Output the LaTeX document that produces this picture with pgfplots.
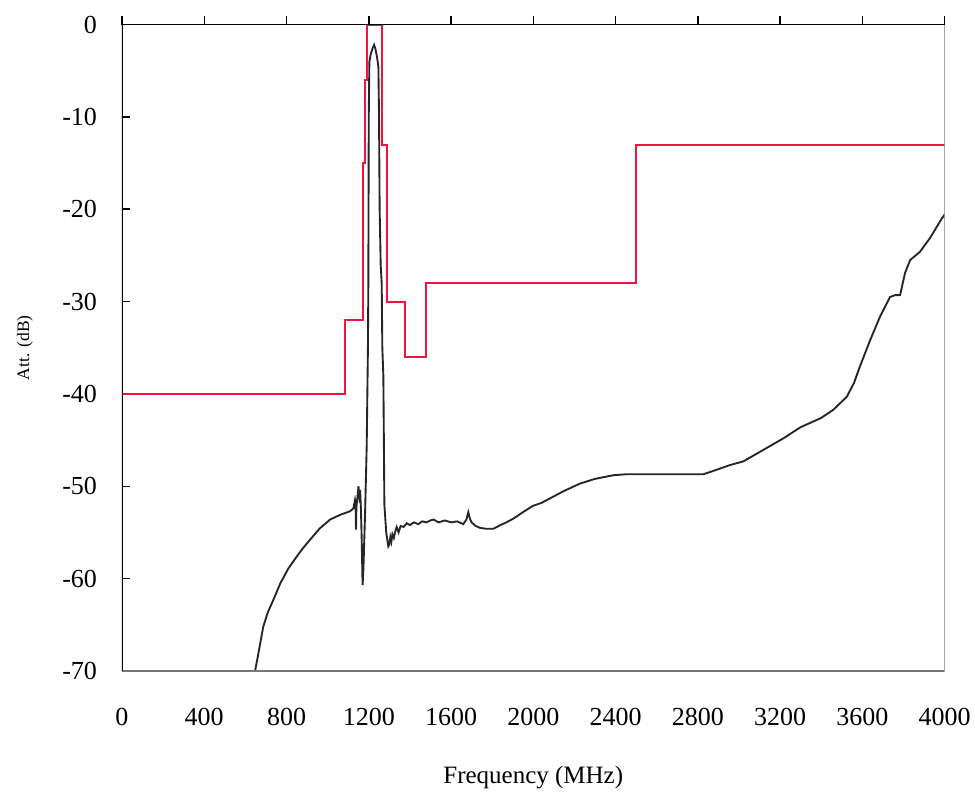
\documentclass[border=0pt]{standalone}
\usepackage{fontspec}
\setmainfont{Liberation Serif}
\usepackage{pgfplots}
\pgfplotsset{compat=1.18}
\definecolor{maskred}{RGB}{238,20,60}
\definecolor{boxgray}{RGB}{120,120,120}
\begin{document}
\begin{tikzpicture}
\useasboundingbox (-48.8pt,-50pt) rectangle (341.2pt,268.4pt);
\begin{axis}[
  scale only axis,
  width=329pt, height=258.6pt,
  xmin=0, xmax=4000, ymin=-70, ymax=0,
  axis line style={draw=none},
  xtick={0,400,...,4000},
  xticklabels={0,400,800,1200,1600,2000,2400,2800,3200,3600,4000},
  ytick={-70,-60,...,0},
  yticklabels={-70,-60,-50,-40,-30,-20,-10,0},
  xtick pos=right, xticklabel pos=left,
  ytick pos=left,
  xtick align=outside, ytick align=inside,
  major tick length=3.4pt,
  tick style={black, line width=0.6pt},
  xticklabel style={anchor=center, inner sep=0pt, yshift=-14.8pt, font=\fontsize{10.4}{12}\selectfont},
  yticklabel style={anchor=east, inner sep=0pt, xshift=-9.8pt, font=\fontsize{10.4}{12}\selectfont},
  xlabel={Frequency (MHz)},
  ylabel={Att. (dB)},
  xlabel style={at={(axis description cs:0.5,-0.1655)}, anchor=center, inner sep=0pt, font=\fontsize{10}{12}\selectfont},
  ylabel style={at={(axis description cs:-0.1179,0.5)}, anchor=center, inner sep=0pt, font=\fontsize{7}{8}\selectfont},
]
\addplot[maskred, line width=0.8pt] coordinates {
(0,-40) (1085,-40) (1085,-32) (1173,-32) (1173,-15) (1181,-15) (1181,-6) (1193,-6) (1193,0)
(1266,0) (1266,-13) (1290,-13) (1290,-30) (1376,-30) (1376,-36) (1479,-36) (1479,-28)
(2500,-28) (2500,-13) (4000,-13)
};
\addplot[black!85, line width=0.75pt] coordinates {
(647,-70) (660,-68.5) (687,-65.2) (710,-63.6) (736,-62.3) (770,-60.5) (809,-58.9) (850,-57.6)
(880,-56.7) (914,-55.8) (960,-54.6) (1012,-53.6) (1060,-53.1) (1109,-52.7) (1125,-52.4)
(1133,-51.5) (1136,-52.0) (1138,-54.7) (1140,-52.2) (1146,-51.0) (1150,-50.0) (1154,-51.0)
(1158,-50.4) (1162,-52.5) (1166,-56) (1170,-60.7) (1174,-59) (1182,-53) (1190,-45.7)
(1196,-35) (1198,-28) (1200,-10) (1203,-4) (1210,-3.2) (1218,-2.6) (1226,-2.2) (1232,-2.6)
(1240,-3.5) (1247,-4.6) (1250,-10) (1253,-20) (1258,-26) (1263,-28) (1266,-35) (1271,-38)
(1276,-52) (1285,-55) (1295,-56.5) (1300,-56.3) (1305,-55.5) (1310,-56) (1315,-55.2)
(1322,-55.6) (1330,-54.8) (1336,-54.4) (1345,-55) (1355,-54.3) (1370,-54.4) (1385,-54.0)
(1400,-54.2) (1420,-53.9) (1440,-54.1) (1460,-53.8) (1480,-53.9) (1500,-53.7) (1514,-53.6)
(1540,-53.9) (1570,-53.7) (1600,-53.9) (1630,-53.8) (1660,-54.1) (1675,-53.6) (1684,-52.8)
(1692,-53.5) (1700,-53.9) (1720,-54.3) (1741,-54.5) (1770,-54.6) (1806,-54.6) (1840,-54.2)
(1870,-53.9) (1903,-53.5) (1950,-52.8) (2000,-52.1) (2040,-51.8) (2082,-51.3) (2150,-50.5)
(2228,-49.7) (2300,-49.2) (2390,-48.8) (2450,-48.7) (2600,-48.7) (2827,-48.7) (2880,-48.3)
(2957,-47.7) (3022,-47.3) (3100,-46.3) (3217,-44.8) (3300,-43.6) (3400,-42.6) (3460,-41.7)
(3525,-40.3) (3560,-38.8) (3589,-37.0) (3638,-34.2) (3687,-31.6) (3735,-29.5) (3760,-29.3)
(3784,-29.3) (3808,-26.9) (3833,-25.5) (3881,-24.6) (3930,-23.1) (3987,-21.0) (4000,-20.6)
};
\draw[boxgray, line width=0.6pt] (rel axis cs:0,0) -- (rel axis cs:1,0) -- (rel axis cs:1,1);
\draw[black, line width=0.6pt] (rel axis cs:0,0) -- (rel axis cs:0,1) -- (rel axis cs:1,1);
\end{axis}
\end{tikzpicture}
\end{document}
